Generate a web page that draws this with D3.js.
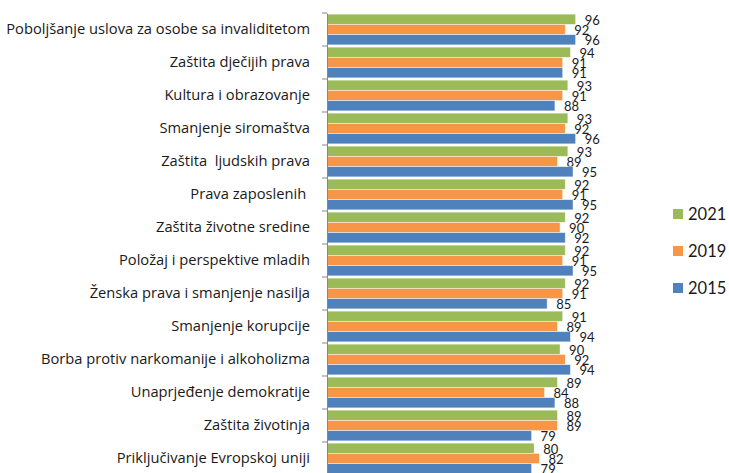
<!DOCTYPE html>
<html>
<head>
<meta charset="utf-8">
<script src="https://cdn.jsdelivr.net/npm/d3@7"></script>
<style>
  body { margin: 0; background: #fff; }
  text { font-family: Lato, "Open Sans", sans-serif; fill: #1a1a1a; }
</style>
</head>
<body>
<div id="chart"></div>
<script>
    var width = 729,
        height = 473;

    // categories top to bottom
    var categories = [
        "Poboljšanje uslova za osobe sa invaliditetom",
        "Zaštita dječijih prava",
        "Kultura i obrazovanje",
        "Smanjenje siromaštva",
        "Zaštita  ljudskih prava",
        "Prava zaposlenih ",
        "Zaštita životne sredine",
        "Položaj i perspektive mladih",
        "Ženska prava i smanjenje nasilja",
        "Smanjenje korupcije",
        "Borba protiv narkomanije i alkoholizma",
        "Unaprjeđenje demokratije",
        "Zaštita životinja",
        "Priključivanje Evropskoj uniji"
    ];

    var years = ["2021", "2019", "2015"];

    var values2021 = [96, 94, 93, 93, 93, 92, 92, 92, 92, 91, 90, 89, 89, 80];
    var values2019 = [92, 91, 91, 92, 89, 91, 90, 91, 91, 89, 92, 84, 89, 82];
    var values2015 = [96, 91, 88, 96, 95, 95, 92, 95, 85, 94, 94, 88, 79, 79];

    var colors = {"2021": "#9BBB59", "2019": "#F79646", "2015": "#4F81BD"};

    var series = {"2021": values2021, "2019": values2019, "2015": values2015};

    var svg = d3.select("#chart")
        .append("svg")
        .attr("width", width)
        .attr("height", height);

    var x = d3.scaleLinear()
        .domain([0, 100])
        .range([327, 586]);

    var y = d3.scaleBand()
        .domain(categories)
        .range([13, 13 + 33 * categories.length]);

    var inner = d3.scaleBand()
        .domain(years)
        .range([0, y.bandwidth()])
        .paddingOuter(0.11)
        .paddingInner(0);

    var rows = svg.selectAll(".row")
        .data(categories)
        .enter()
        .append("g")
        .attr("class", "row")
        .attr("transform", function(d){ return "translate(0," + y(d) + ")"; });

    years.forEach(function(yr){
        rows.append("rect")
            .attr("x", x(0))
            .attr("y", inner(yr))
            .attr("width", function(d, i){ return x(series[yr][i]) - x(0); })
            .attr("height", inner.bandwidth())
            .attr("fill", colors[yr])
            .attr("stroke", "#fff")
            .attr("stroke-opacity", 0.6)
            .attr("stroke-width", 0.8);

        rows.append("text")
            .attr("x", function(d, i){ return x(series[yr][i]) + 9; })
            .attr("y", inner(yr) + inner.bandwidth() / 2 + 1)
            .attr("dy", "0.35em")
            .style("font-size", "13px")
            .text(function(d, i){ return series[yr][i]; });
    });

    // category axis
    var axis = d3.axisLeft(y)
        .tickSize(0)
        .tickPadding(17);

    var gAxis = svg.append("g")
        .attr("transform", "translate(" + x(0) + ",0)")
        .call(axis);
    gAxis.select(".domain").attr("stroke", "#888");
    gAxis.selectAll("text")
        .style("font-size", "14.7px")
        .style("font-family", "'Open Sans', sans-serif")
        .style("white-space", "pre")
        .style("fill", "#1a1a1a")
        .attr("font-family", null);

    // small ticks on band boundaries
    svg.append("g")
        .selectAll("line")
        .data(d3.range(categories.length + 1))
        .enter()
        .append("line")
        .attr("x1", x(0) - 5)
        .attr("x2", x(0))
        .attr("y1", function(i){ return 13 + i * y.step(); })
        .attr("y2", function(i){ return 13 + i * y.step(); })
        .attr("stroke", "#888");

    // legend
    var legend = svg.append("g")
        .selectAll("g")
        .data(years)
        .enter()
        .append("g")
        .attr("transform", function(d, i){ return "translate(673," + (214 + i * 37) + ")"; });

    legend.append("rect")
        .attr("x", 0)
        .attr("y", -5)
        .attr("width", 10)
        .attr("height", 10)
        .attr("fill", function(d){ return colors[d]; });

    legend.append("text")
        .attr("x", 15)
        .attr("dy", "0.36em")
        .style("font-size", "16.5px")
        .text(function(d){ return d; });
</script>
</body>
</html>
